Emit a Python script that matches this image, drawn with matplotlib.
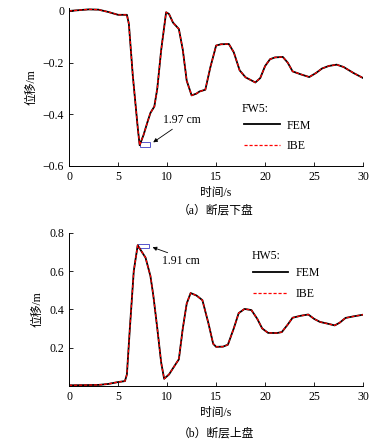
import matplotlib.pyplot as plt
from matplotlib.patches import Rectangle

plt.rcParams['font.family'] = ['Liberation Serif', 'Noto Sans CJK SC']
plt.rcParams['font.size'] = 8.5

# 断层下盘 FW5
t_fw = [0, 1, 2, 3, 4, 5, 5.9, 6.1, 6.5, 7.0, 7.2, 7.6, 8.0, 8.3, 8.7, 9.0, 9.4, 9.9,
        10.2, 10.6, 11.2, 11.6, 12.0, 12.5, 13.0, 13.3, 13.9, 14.4, 15.0, 15.5, 16.3,
        16.8, 17.4, 18.0, 19.0, 19.5, 20.0, 20.5, 21.0, 21.8, 22.3, 22.8, 23.6, 24.5,
        25.2, 25.8, 26.5, 27.3, 28.0, 29.0, 30.0]
u_fw = [0, 0.003, 0.006, 0.005, -0.004, -0.015, -0.015, -0.05, -0.25, -0.45, -0.52,
        -0.48, -0.43, -0.395, -0.37, -0.3, -0.15, -0.005, -0.012, -0.045, -0.07, -0.15,
        -0.27, -0.327, -0.32, -0.312, -0.305, -0.22, -0.134, -0.129, -0.128, -0.16,
        -0.23, -0.257, -0.277, -0.26, -0.213, -0.187, -0.18, -0.178, -0.2, -0.234,
        -0.245, -0.256, -0.24, -0.223, -0.213, -0.208, -0.217, -0.24, -0.26]

# 断层上盘 HW5
t_hw = [0, 3, 4, 5, 5.7, 5.9, 6.2, 6.6, 7.0, 7.3, 7.8, 8.3, 8.6, 9.0, 9.4, 9.7, 10.2,
        10.7, 11.2, 11.6, 12.0, 12.4, 13.0, 13.6, 14.2, 14.7, 15.0, 15.7, 16.2, 16.8,
        17.3, 17.9, 18.6, 19.2, 19.7, 20.3, 21.2, 21.7, 22.3, 22.8, 23.6, 24.4, 25.0,
        25.6, 26.3, 27.1, 27.6, 28.2, 29.0, 30.0]
u_hw = [0.003, 0.005, 0.01, 0.02, 0.025, 0.06, 0.3, 0.6, 0.735, 0.71, 0.67, 0.574,
        0.47, 0.3, 0.12, 0.037, 0.06, 0.1, 0.139, 0.3, 0.43, 0.485, 0.472, 0.448, 0.33,
        0.22, 0.204, 0.205, 0.215, 0.3, 0.38, 0.402, 0.396, 0.35, 0.3, 0.277, 0.276,
        0.281, 0.32, 0.356, 0.366, 0.373, 0.35, 0.334, 0.326, 0.316, 0.33, 0.355,
        0.363, 0.372]

fig = plt.figure(figsize=(3.88, 4.40), dpi=100)
ax1 = fig.add_axes([0.178, 0.623, 0.758, 0.358])
ax2 = fig.add_axes([0.178, 0.123, 0.758, 0.348])


def style(ax):
    for s in ['top', 'right']:
        ax.spines[s].set_visible(False)
    ax.tick_params(direction='in', length=3, width=0.6)
    for s in ['left', 'bottom']:
        ax.spines[s].set_linewidth(0.7)
    ax.set_xlim(0, 30)
    ax.set_xticks([0, 5, 10, 15, 20, 25, 30])
    ax.set_xlabel('时间/s', labelpad=3)
    ax.set_ylabel('位移/m', labelpad=4)


# (a)
ax1.plot(t_fw, u_fw, color='black', lw=1.3, label='FEM')
ax1.plot(t_fw, u_fw, color='red', lw=0.9, ls=(0, (2.5, 1.5)), label='IBE')
style(ax1)
ax1.set_ylim(-0.6, 0.01)
ax1.set_yticks([0, -0.2, -0.4, -0.6])
ax1.set_yticklabels(['0', '\u22120.2', '\u22120.4', '\u22120.6'])
ax1.add_patch(Rectangle((7.2, -0.525), 1.1, 0.016, fill=False, ec='#5555cc', lw=0.7))
ax1.annotate('1.97 cm', xy=(8.35, -0.515), xytext=(9.6, -0.424),
             va='center', arrowprops=dict(arrowstyle='-|>', color='black', lw=0.6,
                                          mutation_scale=6, shrinkA=0,
                                          relpos=(0.35, 0)))
ax1.text(17.6, -0.38, 'FW5:', va='center')
ax1.legend(frameon=False, loc='center left', bbox_to_anchor=(0.56, 0.19),
           handlelength=3.0, labelspacing=0.75, handletextpad=0.6)
ax1.text(0.5, -0.3, '（a）断层下盘', transform=ax1.transAxes, ha='center')

# (b)
ax2.plot(t_hw, u_hw, color='black', lw=1.3, label='FEM')
ax2.plot(t_hw, u_hw, color='red', lw=0.9, ls=(0, (2.5, 1.5)), label='IBE')
style(ax2)
ax2.set_ylim(0, 0.8)
ax2.set_yticks([0.2, 0.4, 0.6, 0.8])
ax2.add_patch(Rectangle((7.0, 0.72), 1.15, 0.021, fill=False, ec='#5555cc', lw=0.7))
ax2.annotate('1.91 cm', xy=(8.25, 0.729), xytext=(9.5, 0.65),
             va='center', arrowprops=dict(arrowstyle='-|>', color='black', lw=0.6,
                                          mutation_scale=6, shrinkA=0,
                                          relpos=(0.35, 1)))
ax2.text(18.6, 0.68, 'HW5:', va='center')
ax2.legend(frameon=False, loc='center left', bbox_to_anchor=(0.588, 0.67),
           handlelength=3.0, labelspacing=0.75, handletextpad=0.6)
ax2.text(0.5, -0.33, '（b）断层上盘', transform=ax2.transAxes, ha='center')

fig.savefig('out.png', dpi=100)
